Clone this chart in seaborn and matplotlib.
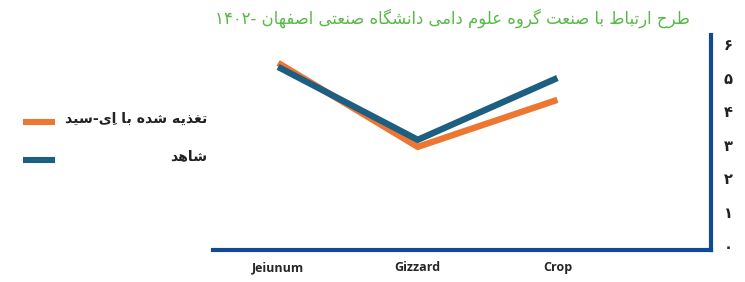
import numpy as np
import pandas as pd
import matplotlib
matplotlib.use("Agg")
import matplotlib.pyplot as plt
import seaborn as sns
from matplotlib.lines import Line2D

# ---------------- data ----------------
categories = ["Jeiunum", "Gizzard", "Crop"]
series_names = ["تغذیه شده با اِی-سید", "شاهد"]
treated_values = [5.44, 2.94, 4.34]
control_values = [5.32, 3.15, 4.99]
y_ticks = [0, 1, 2, 3, 4, 5, 6]
y_tick_labels = ["۰", "۱", "۲", "۳", "۴", "۵", "۶"]
title_text = "طرح ارتباط با صنعت گروه علوم دامی دانشگاه صنعتی اصفهان -۱۴۰۲"
series_colors = ["#ee7633", "#1c5f80"]

# ------------- Arabic/Persian shaping (presentation forms + visual order) -------------
FORMS = {
    '\u0627': ('\uFE8D', '\uFE8E', None, None),
    '\u0628': ('\uFE8F', '\uFE90', '\uFE91', '\uFE92'),
    '\u062A': ('\uFE95', '\uFE96', '\uFE97', '\uFE98'),
    '\u062D': ('\uFEA1', '\uFEA2', '\uFEA3', '\uFEA4'),
    '\u062F': ('\uFEA9', '\uFEAA', None, None),
    '\u0630': ('\uFEAB', '\uFEAC', None, None),
    '\u0631': ('\uFEAD', '\uFEAE', None, None),
    '\u0633': ('\uFEB1', '\uFEB2', '\uFEB3', '\uFEB4'),
    '\u0634': ('\uFEB5', '\uFEB6', '\uFEB7', '\uFEB8'),
    '\u0635': ('\uFEB9', '\uFEBA', '\uFEBB', '\uFEBC'),
    '\u0637': ('\uFEC1', '\uFEC2', '\uFEC3', '\uFEC4'),
    '\u0639': ('\uFEC9', '\uFECA', '\uFECB', '\uFECC'),
    '\u063A': ('\uFECD', '\uFECE', '\uFECF', '\uFED0'),
    '\u0641': ('\uFED1', '\uFED2', '\uFED3', '\uFED4'),
    '\u0644': ('\uFEDD', '\uFEDE', '\uFEDF', '\uFEE0'),
    '\u0645': ('\uFEE1', '\uFEE2', '\uFEE3', '\uFEE4'),
    '\u0646': ('\uFEE5', '\uFEE6', '\uFEE7', '\uFEE8'),
    '\u0647': ('\uFEE9', '\uFEEA', '\uFEEB', '\uFEEC'),
    '\u0648': ('\uFEED', '\uFEEE', None, None),
    '\u064A': ('\uFEF1', '\uFEF2', '\uFEF3', '\uFEF4'),
    '\u06CC': ('\uFBFC', '\uFBFD', '\uFBFE', '\uFBFF'),
    '\u06A9': ('\uFB8E', '\uFB8F', '\uFB90', '\uFB91'),
    '\u06AF': ('\uFB92', '\uFB93', '\uFB94', '\uFB95'),
}
MARKS = set('\u064B\u064C\u064D\u064E\u064F\u0650\u0651\u0652')


def shape(s):
    chars = list(s)
    n = len(chars)

    def neighbor(i, step):
        j = i + step
        while 0 <= j < n and chars[j] in MARKS:
            j += step
        return chars[j] if 0 <= j < n else None

    out = []
    for i, c in enumerate(chars):
        if c in FORMS:
            iso, fin, ini, med = FORMS[c]
            p = neighbor(i, -1)
            q = neighbor(i, 1)
            pj = p in FORMS and FORMS[p][2] is not None
            nj = ini is not None and q in FORMS
            if pj and nj:
                g = med
            elif pj:
                g = fin
            elif nj:
                g = ini
            else:
                g = iso
            out.append(g)
        else:
            out.append(c)
    # group base + marks; marks placed first so they sit on the base glyph
    clusters = []
    for g in out:
        if g in MARKS and clusters:
            clusters[-1] = g + clusters[-1]
        else:
            clusters.append(g)
    clusters.reverse()
    res = []
    i = 0
    while i < len(clusters):
        if clusters[i].isdigit():
            j = i
            while j < len(clusters) and clusters[j].isdigit():
                j += 1
            res.extend(reversed(clusters[i:j]))
            i = j
        else:
            res.append(clusters[i])
            i += 1
    return ''.join(res)


# ---------------- figure ----------------
sns.set_theme(style="white")
plt.rcParams['font.family'] = ['DejaVu Sans']

W, H = 745, 282
fig = plt.figure(figsize=(W / 100, H / 100), dpi=100)
fig.patch.set_facecolor("white")

ax_left, ax_right, ax_top, ax_bottom = 213, 711, 35, 250
ax = fig.add_axes([ax_left / W, 1 - ax_bottom / H,
                   (ax_right - ax_left) / W, (ax_bottom - ax_top) / H])
ax.set_facecolor("white")

df = pd.DataFrame({
    "category": categories * 2,
    "value": treated_values + control_values,
    "series": [series_names[0]] * len(categories) + [series_names[1]] * len(categories),
})

sns.lineplot(data=df, x="category", y="value", hue="series",
             hue_order=series_names, palette=series_colors,
             sort=False, linewidth=4.6, ax=ax, legend=False)
for ln in ax.lines:
    ln.set_solid_capstyle("butt")
    ln.set_solid_joinstyle("miter")

ax.set_xlim(-0.466, 3.10)
ax.set_ylim(-0.13, 6.27)
ax.set_xlabel("")
ax.set_ylabel("")

spine_color = "#114a92"
for side in ["left", "top"]:
    ax.spines[side].set_visible(False)
for side in ["right", "bottom"]:
    ax.spines[side].set_visible(True)
    ax.spines[side].set_color(spine_color)
    ax.spines[side].set_linewidth(3.0)
    ax.spines[side].set_capstyle("projecting")

ax.yaxis.tick_right()
ax.set_yticks(y_ticks)
ax.set_yticklabels(y_tick_labels)
ax.tick_params(axis="y", length=0, pad=9, labelsize=10.5, labelcolor="#222222")
for t in ax.get_yticklabels():
    t.set_fontweight("bold")
    t.set_family(["DejaVu Sans"])

ax.set_xticks(range(len(categories)))
ax.set_xticklabels(categories)
ax.tick_params(axis="x", length=0, pad=8, labelsize=9, labelcolor="#262626")
for t in ax.get_xticklabels():
    t.set_fontweight("bold")
    t.set_family(["Open Sans", "DejaVu Sans"])
ax.grid(False)

# title
fig.text(690 / W, 1 - 18 / H, shape(title_text), ha="right", va="center",
         color="#58b947", fontsize=11.9, family=["DejaVu Sans"])

# legend (manual)
leg_line_y = [121.7, 159.7]
leg_text_y = [118.5, 156.5]
for name, col, ly, ty in zip(series_names, series_colors, leg_line_y, leg_text_y):
    fig.add_artist(Line2D([23 / W, 55 / W], [1 - ly / H, 1 - ly / H],
                          transform=fig.transFigure, color=col, linewidth=4.4,
                          solid_capstyle="butt"))
    fig.text(207 / W, 1 - ty / H, shape(name), ha="right", va="center",
             color="#222222", fontsize=10.2, fontweight="bold", family=["DejaVu Sans"])

fig.savefig("out.png", dpi=100)
